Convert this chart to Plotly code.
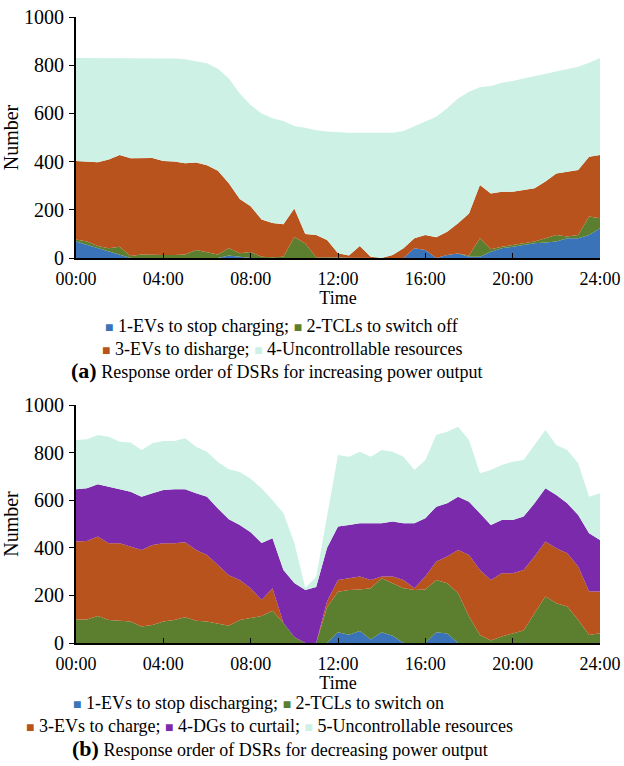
import plotly.graph_objects as go

# ---------------- data ----------------
time_h = [i * 0.5 for i in range(49)]
tick_vals = [0, 4, 8, 12, 16, 20, 24]
tick_text = ["00:00", "04:00", "08:00", "12:00", "16:00", "20:00", "24:00"]
y_ticks = [0, 200, 400, 600, 800, 1000]

# (a) increasing power output
a_ev_stop = [68, 54, 40, 26, 12, 0, 0, 0, 0, 0, 0, 0, 0, 0, 10, 5, 0, 0, 0, 0, 0, 0, 0, 0, 0,
             0, 0, 0, 0, 0, 0, 40, 33, 0, 12, 19, 5, 5, 26, 40, 47, 54, 61, 64, 68, 82, 82, 95, 123]
a_tcl_off = [9, 14, 10, 14, 35, 8, 15, 12, 12, 12, 15, 33, 25, 15, 30, 15, 25, 5, 3, 5, 87, 60, 3, 3, 0,
             0, 0, 0, 0, 0, 0, 0, 0, 0, 0, 0, 5, 77, 10, 7, 7, 7, 7, 18, 27, 7, 13, 77, 42]
a_ev_dis = [325, 332, 347, 369, 380, 406, 399, 403, 390, 388, 378, 363, 360, 347, 270, 225, 190, 155, 142,
            135, 118, 40, 92, 72, 20, 10, 50, 5, 0, 12, 40, 42, 62, 86, 97, 125, 175, 221, 232, 228, 221,
            221, 221, 235, 256, 269, 270, 248, 262]
a_unctrl = [428, 430, 433, 421, 403, 416, 416, 415, 428, 428, 432, 422, 423, 423, 435, 438, 420, 440, 435,
            428, 343, 440, 435, 450, 502, 510, 470, 515, 518, 508, 487, 463, 471, 500, 512, 518, 505, 405,
            446, 452, 459, 463, 466, 448, 426, 427, 429, 390, 403]

# (b) decreasing power output
b_ev_stopdis = [0] * 24 + [45, 35, 50, 15, 45, 30, 0, 0, 0, 45, 40, 0] + [0] * 13
b_tcl_on = [99, 99, 113, 97, 94, 90, 69, 76, 90, 97, 108, 94, 90, 80, 72, 97, 104, 113, 135, 84, 25, 0, 0,
            150, 170, 188, 175, 215, 227, 221, 230, 223, 225, 220, 211, 209, 111, 34, 10, 27, 41, 52, 125,
            195, 167, 153, 97, 34, 41]
b_ev_chg = [327, 330, 334, 322, 325, 315, 322, 336, 329, 322, 315, 297, 280, 248, 213, 168, 126, 68, 95, 0,
            0, 0, 0, 25, 50, 49, 54, 35, 7, 28, 35, 7, 54, 77, 112, 182, 259, 273, 255, 266, 252, 255, 238,
            231, 231, 224, 224, 182, 175]
b_dg_curt = [220, 221, 220, 236, 227, 231, 224, 217, 224, 227, 223, 238, 245, 237, 235, 231, 235, 239, 210,
             223, 227, 223, 235, 225, 224, 224, 224, 238, 224, 231, 238, 273, 245, 231, 224, 224, 224, 238,
             231, 224, 224, 224, 224, 224, 224, 210, 217, 245, 217]
b_unctrl = [207, 206, 207, 212, 200, 206, 196, 210, 206, 203, 214, 196, 189, 195, 210, 222, 225, 230, 160,
            239, 168, 9, 42, 129, 301, 287, 301, 280, 308, 294, 280, 224, 245, 301, 301, 294, 259, 168, 231,
            231, 245, 238, 245, 245, 210, 224, 217, 154, 196]

# ---------------- style ----------------
C_BLUE = "#3b73b9"
C_GREEN = "#5b7f2f"
C_ORANGE = "#b8531e"
C_CYAN = "#cdf2e5"
C_PURPLE = "#7a2aaa"
FONT = "Liberation Serif"

fig = go.Figure()

def add_area(x, y, color, name, xa, ya, group):
    fig.add_trace(go.Scatter(
        x=x, y=y, name=name, mode="lines", stackgroup=group,
        line=dict(width=0, color=color), fillcolor=color,
        xaxis=xa, yaxis=ya, showlegend=False, hoverinfo="x+y+name"))

add_area(time_h, a_ev_stop, C_BLUE, "1-EVs to stop charging", "x", "y", "a")
add_area(time_h, a_tcl_off, C_GREEN, "2-TCLs to switch off", "x", "y", "a")
add_area(time_h, a_ev_dis, C_ORANGE, "3-EVs to disharge", "x", "y", "a")
add_area(time_h, a_unctrl, C_CYAN, "4-Uncontrollable resources", "x", "y", "a")

add_area(time_h, b_ev_stopdis, C_BLUE, "1-EVs to stop discharging", "x2", "y2", "b")
add_area(time_h, b_tcl_on, C_GREEN, "2-TCLs to switch on", "x2", "y2", "b")
add_area(time_h, b_ev_chg, C_ORANGE, "3-EVs to charge", "x2", "y2", "b")
add_area(time_h, b_dg_curt, C_PURPLE, "4-DGs to curtail", "x2", "y2", "b")
add_area(time_h, b_unctrl, C_CYAN, "5-Uncontrollable resources", "x2", "y2", "b")

W, H = 624, 766
def py(pix):
    return 1 - pix / H
def px(pix):
    return pix / W

xaxis_common = dict(
    range=[0, 24], tickvals=tick_vals, ticktext=tick_text, automargin=False,
    ticks="inside", ticklen=5, tickwidth=1.2, tickcolor="black",
    showline=True, linecolor="black", linewidth=1.8, showgrid=False, zeroline=False,
    tickfont=dict(family=FONT, size=18, color="black"), ticklabelstandoff=3,
    title=dict(text="Time", font=dict(family=FONT, size=18, color="black"), standoff=2),
)
yaxis_common = dict(
    range=[0, 1000], tickvals=y_ticks, automargin=False,
    ticks="outside", ticklen=5, tickwidth=1.2, tickcolor="black",
    showline=True, linecolor="black", linewidth=1.8, showgrid=False, zeroline=False,
    tickfont=dict(family=FONT, size=20, color="black"), ticklabelstandoff=1,
    title=dict(text="Number", font=dict(family=FONT, size=20, color="black"), standoff=6),
)

fig.update_layout(
    width=W, height=H, margin=dict(l=0, r=0, t=0, b=0, autoexpand=False),
    paper_bgcolor="white", plot_bgcolor="white",
    font=dict(family=FONT, size=18, color="black"),
    xaxis=dict(domain=[px(76), px(600)], anchor="y", **xaxis_common),
    yaxis=dict(domain=[py(258), py(17)], anchor="x", **yaxis_common),
    xaxis2=dict(domain=[px(76), px(600)], anchor="y2", **xaxis_common),
    yaxis2=dict(domain=[py(643), py(405)], anchor="x2", **yaxis_common),
)

def sq(c):
    return f'<span style="color:{c};font-size:14px">■</span>'

annots = [
    (281, 326, f'{sq(C_BLUE)} 1-EVs to stop charging; {sq(C_GREEN)} 2-TCLs to switch off'),
    (282, 349, f'{sq(C_ORANGE)} 3-EVs to disharge; {sq(C_CYAN)} 4-Uncontrollable resources'),
    (277, 371, '<b><span style="font-size:22px">(a)</span></b> Response order of DSRs for increasing power output'),
    (258, 703, f'{sq(C_BLUE)} 1-EVs to stop discharging; {sq(C_GREEN)} 2-TCLs to switch on'),
    (269, 726, f'{sq(C_ORANGE)} 3-EVs to charge; {sq(C_PURPLE)} 4-DGs to curtail; {sq(C_CYAN)} 5-Uncontrollable resources'),
    (280, 748, '<b><span style="font-size:22px">(b)</span></b> Response order of DSRs for decreasing power output'),
]
for xc, yc, txt in annots:
    fig.add_annotation(x=px(xc), y=py(yc), xref="paper", yref="paper", text=txt,
                       showarrow=False, xanchor="center", yanchor="middle",
                       font=dict(family=FONT, size=18, color="black"))

fig.write_html("out.html")
